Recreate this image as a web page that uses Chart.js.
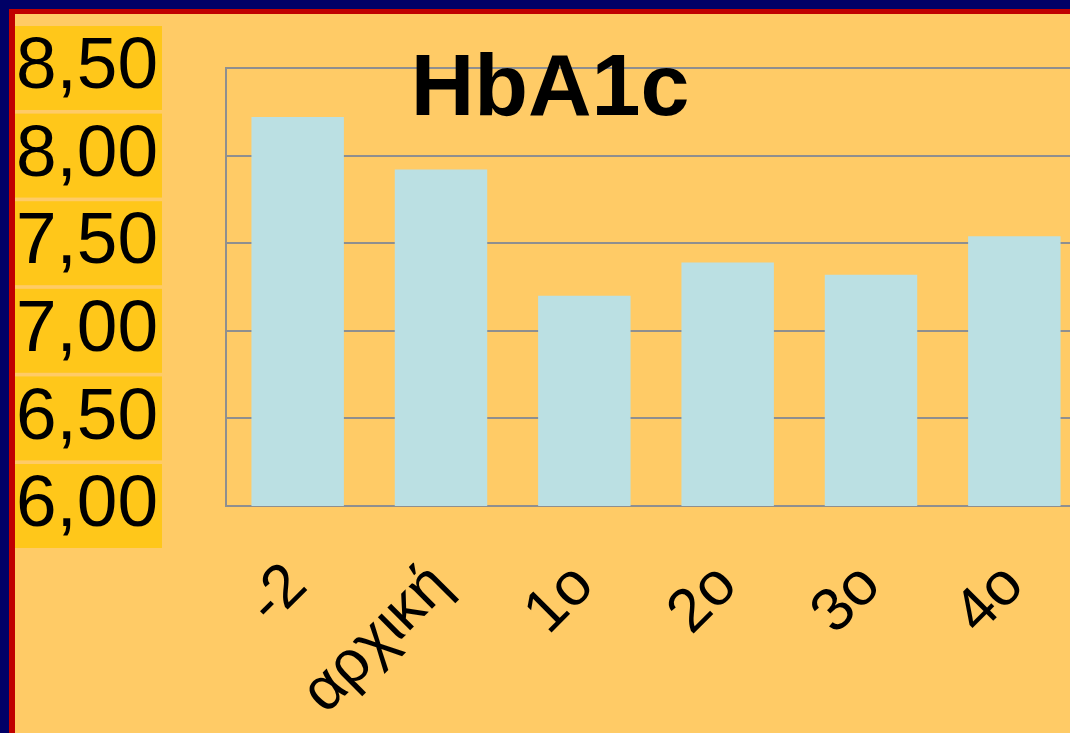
<!DOCTYPE html>
<html>
<head>
<meta charset="utf-8">
<script src="https://cdn.jsdelivr.net/npm/chart.js@4.4.1/dist/chart.umd.min.js"></script>
<style>
  html, body { margin: 0; padding: 0; width: 1070px; height: 733px; overflow: hidden; background: #FFCB66; }
  #wrap { position: absolute; left: 0; top: 0; width: 1086px; height: 733px; }
  .frame { position: absolute; }
</style>
</head>
<body>
<div id="wrap"><canvas id="hba1c-chart"></canvas></div>
<!-- slide frame: navy outer, red inner (top + left only visible) -->
<div class="frame" style="left:0;top:0;width:1070px;height:9px;background:#000066"></div>
<div class="frame" style="left:0;top:0;width:9px;height:733px;background:#000066"></div>
<div class="frame" style="left:9px;top:9px;width:1061px;height:5px;background:#C00000"></div>
<div class="frame" style="left:9px;top:9px;width:6px;height:724px;background:#C00000"></div>
<script>
const categories = ['-2', 'αρχική', '1ο', '2ο', '3ο', '4ο'];
const hba1cValues = [8.22, 7.92, 7.20, 7.39, 7.32, 7.54];
const yMin = 6.0;
const yMax = 8.5;
const yStep = 0.5;
const chartTitle = 'HbA1c';

const gridGray = '#8F8F8F';
const fontFamily = '"Liberation Sans", Arial, sans-serif';

// title sits over the plot, drawn on top like in the slide
const titleOverlay = {
    id: 'titleOverlay',
    afterDraw(chart) {
        const ctx = chart.ctx;
        ctx.save();
        ctx.font = 'bold 88px ' + fontFamily;
        ctx.fillStyle = '#000';
        ctx.textAlign = 'center';
        ctx.textBaseline = 'alphabetic';
        ctx.fillText(chartTitle, 550, 115);
        ctx.restore();
    }
};

new Chart(document.getElementById('hba1c-chart'), {
    type: 'bar',
    data: {
        labels: categories,
        datasets: [{
            label: chartTitle,
            data: hba1cValues,
            backgroundColor: '#BBE0E3',
            borderWidth: 0,
            barPercentage: 0.645,
            categoryPercentage: 1
        }]
    },
    options: {
        responsive: true,
        maintainAspectRatio: false,
        animation: false,
        layout: { padding: { top: 68, left: 0, right: 0, bottom: 0 } },
        plugins: {
            legend: { display: false },
            tooltip: { enabled: false },
            title: { display: false }
        },
        scales: {
            x: {
                offset: true,
                grid: { display: false, drawTicks: false, tickLength: 0 },
                border: { display: true, color: gridGray, width: 2 },
                ticks: {
                    autoSkip: false,
                    minRotation: 45,
                    maxRotation: 45,
                    padding: 44,
                    color: '#000',
                    font: { family: fontFamily, size: 61 }
                },
                afterFit(scale) {
                    scale.height = 227;
                    scale.paddingLeft = 0;
                    scale.paddingRight = 0;
                }
            },
            y: {
                min: yMin,
                max: yMax,
                grid: { color: gridGray, lineWidth: 2, drawTicks: false, tickLength: 0 },
                border: { display: true, color: gridGray, width: 2 },
                ticks: {
                    stepSize: yStep,
                    padding: 68,
                    color: '#000',
                    font: { family: fontFamily, size: 73, lineHeight: 1.15 },
                    showLabelBackdrop: true,
                    backdropColor: '#FFC71A',
                    backdropPadding: { top: 0, bottom: 0, left: 2, right: 4 },
                    callback: (v) => v.toFixed(2).replace('.', ',')
                },
                afterFit(scale) {
                    scale.width = 226;
                    scale.paddingTop = 0;
                    scale.paddingBottom = 0;
                }
            }
        }
    },
    plugins: [titleOverlay]
});
</script>
</body>
</html>
